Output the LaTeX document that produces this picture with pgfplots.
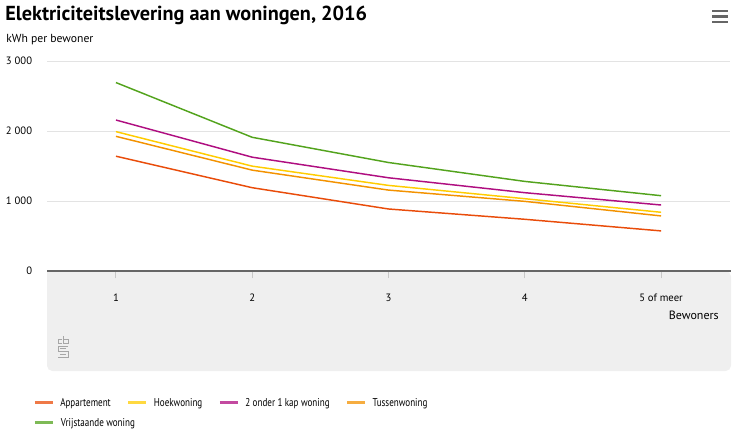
\documentclass[border=0pt]{standalone}
\usepackage{fontspec}
\setmainfont{PT Sans}
\newfontfamily\legfont[FakeStretch=0.8]{PT Sans}
\usepackage{pgfplots}
\pgfplotsset{compat=1.18}
\definecolor{cRed}{HTML}{E94C0A}
\definecolor{cYellow}{HTML}{FFCC00}
\definecolor{cPurple}{HTML}{AF0E80}
\definecolor{cOrange}{HTML}{F39200}
\definecolor{cGreen}{HTML}{53A31D}
\definecolor{band}{HTML}{EFEFEF}
\definecolor{gridc}{HTML}{E3E3E3}
\definecolor{axisc}{HTML}{666666}
\definecolor{tickc}{HTML}{C8C8C8}
\begin{document}
\begin{tikzpicture}[x=0.75pt,y=-0.75pt]
\fill[band] (47,271) [rounded corners=4pt]-- (47,371) -- (731,371) -- (731,271) [sharp corners]-- cycle;
\begin{axis}[
  at={(35.25pt,-203.25pt)}, anchor=south west,
  scale only axis, width=512.25pt, height=157.5pt,
  xmin=0.494, xmax=5.506, ymin=0, ymax=3000,
  axis line style={draw=none},
  tick pos=left, tick align=outside,
  xtick={1,2,3,4,5},
  xticklabels={1,2,3,4,5 of meer},
  ytick={0,1000,2000,3000},
  ymajorgrids, grid style={gridc, line width=0.75pt},
  xtick style={draw=tickc, line width=0.75pt},
  ytick style={draw=none},
  major tick length=5.5pt,
  /pgf/number format/assume math mode=true,
  /pgf/number format/1000 sep={\ },
  ticklabel style={font=\fontsize{8}{10}\selectfont, text=black},
  xticklabel style={anchor=base, yshift=-17.25pt},
  yticklabel style={anchor=east, inner sep=0pt, xshift=-5.5pt},
  legend style={at={(-0.0205,-0.600)}, anchor=north west, draw=none, fill=none,
    inner sep=0pt, font=\legfont\fontsize{8.5}{10}\selectfont,
    nodes={inner sep=0pt, text height=7pt, text depth=1.5pt},
    /tikz/row sep=6.5pt,
    /tikz/every odd column/.append style={column sep=4.5pt},
    /tikz/every even column/.append style={column sep=12pt}},
  legend columns=4, legend cell align=left,
  legend image code/.code={\draw[#1, line width=2.25pt, opacity=0.75] (0pt,0pt) -- (13.5pt,0pt);},
  every axis plot/.append style={line width=1.1pt, mark=none},
]
\addplot[cRed] coordinates {(1,1640) (2,1190) (3,886) (4,739) (5,573)};
\addlegendentry{Appartement}
\addplot[cYellow] coordinates {(1,1991) (2,1498) (3,1223) (4,1033) (5,839)};
\addlegendentry{Hoekwoning}
\addplot[cPurple] coordinates {(1,2157) (2,1626) (3,1332) (4,1119) (5,943)};
\addlegendentry{2 onder 1 kap woning}
\addplot[cOrange] coordinates {(1,1924) (2,1441) (3,1156) (4,995) (5,787)};
\addlegendentry{Tussenwoning}
\addplot[cGreen] coordinates {(1,2692) (2,1910) (3,1550) (4,1280) (5,1076)};
\addlegendentry{\rlap{Vrijstaande woning}}
\end{axis}
\draw[axisc, line width=1.5pt] (47,271) -- (731,271);
\node[anchor=base west, inner sep=0pt, font=\bfseries\fontsize{15.2}{18}\selectfont] at (5,20) {Elektriciteitslevering aan woningen, 2016};
\node[anchor=base west, inner sep=0pt, font=\fontsize{8.75}{10}\selectfont] at (6,42) {kWh per bewoner};
\node[anchor=base east, inner sep=0pt, font=\fontsize{9}{10}\selectfont] at (719,319) {Bewoners};
% menu icon
\foreach \yy in {11,16.5,22} \draw[axisc, line width=2.2pt] (712,\yy) -- (728,\yy);
% cbs logo (approximation)
\begin{scope}[draw=gray!70, line width=0.6pt]
\draw (62,339) -- (58,339) -- (58,343) -- (62,343);
\draw (63,336) -- (63,343) -- (68,343) -- (68,339) -- (63,339);
\draw (68,346) -- (58,346) -- (58,351.5) -- (68,351.5) -- (68,357) -- (58,357);
\draw (60,348.5) -- (66,348.5);
\draw (60,354.5) -- (66,354.5);
\end{scope}
\pgfresetboundingbox
\path (0,0) rectangle (736,437);
\end{tikzpicture}
\end{document}
